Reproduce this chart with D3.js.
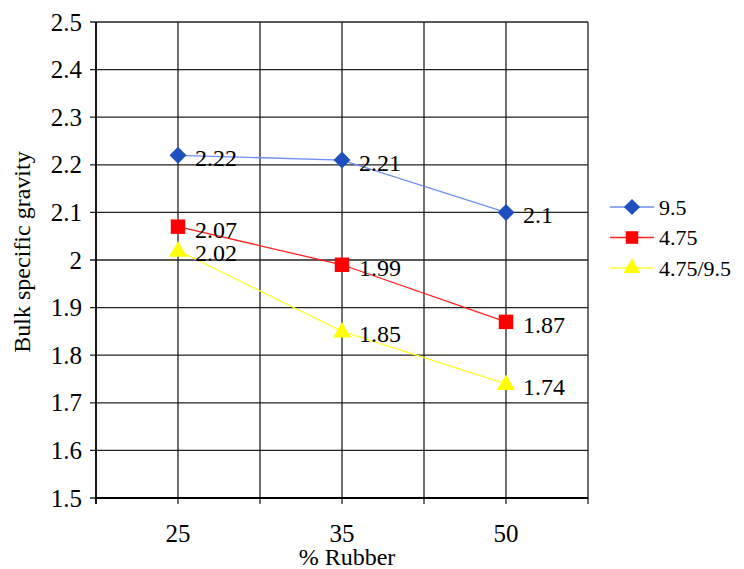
<!DOCTYPE html>
<html><head><meta charset="utf-8">
<script src="https://cdn.jsdelivr.net/npm/d3@7"></script>
</head><body style="margin:0">
<script>
const categories = ["25", "35", "50"];
const seriesNames = ["9.5", "4.75", "4.75/9.5"];
const values95 = [2.22, 2.21, 2.1];
const values475 = [2.07, 1.99, 1.87];
const values475_95 = [2.02, 1.85, 1.74];
const yTicks = [1.5, 1.6, 1.7, 1.8, 1.9, 2.0, 2.1, 2.2, 2.3, 2.4, 2.5];
const yTickLabels = ["1.5","1.6","1.7","1.8","1.9","2","2.1","2.2","2.3","2.4","2.5"];

const series = [
  {name: seriesNames[0], values: values95, line: "#6f8ff5", fill: "#1f4fbf", kind: "diamond"},
  {name: seriesNames[1], values: values475, line: "#ff2020", fill: "#ff0000", kind: "square"},
  {name: seriesNames[2], values: values475_95, line: "#ffff30", fill: "#ffff00", kind: "triangle"}
];

const W = 744, H = 569;
const plot = {left: 96, right: 588, top: 22, bottom: 498};
const svg = d3.select("body").append("svg").attr("width", W).attr("height", H)
  .style("display", "block").attr("font-family", "Liberation Serif");

function txt(parent) {
  return parent.append("text").style("font-family", '"Liberation Serif"');
}

const x = d3.scaleBand().domain(categories).range([plot.left, plot.right]).padding(0);
const y = d3.scaleLinear().domain([1.5, 2.5]).range([plot.bottom, plot.top]);
const cx = c => x(c) + x.bandwidth() / 2;

function markerPath(kind, scale) {
  if (kind === "diamond") return d3.symbol().type(d3.symbolSquare).size(144 * scale)();
  if (kind === "square") return d3.symbol().type(d3.symbolSquare).size(210 * scale)();
  return d3.symbol().type(d3.symbolTriangle).size(140 * scale)();
}

// horizontal gridlines
svg.append("g").selectAll("line").data(yTicks).join("line")
  .attr("x1", plot.left - 6).attr("x2", plot.right)
  .attr("y1", d => y(d)).attr("y2", d => y(d))
  .attr("stroke", "#222").attr("stroke-width", 1.3);

// vertical gridlines: band boundaries and centers
const vx = [];
categories.forEach(c => { vx.push(x(c)); vx.push(cx(c)); });
vx.push(plot.right);
svg.append("g").selectAll("line").data(vx).join("line")
  .attr("x1", d => d).attr("x2", d => d)
  .attr("y1", plot.top).attr("y2", plot.bottom + 6)
  .attr("stroke", "#222").attr("stroke-width", 1.3);

// axes lines
svg.append("line").attr("x1", plot.left).attr("x2", plot.left).attr("y1", plot.top).attr("y2", plot.bottom + 6)
  .attr("stroke", "#000").attr("stroke-width", 1.6);
svg.append("line").attr("x1", plot.left).attr("x2", plot.right).attr("y1", plot.bottom).attr("y2", plot.bottom)
  .attr("stroke", "#000").attr("stroke-width", 2);

// y tick labels
const gy = svg.append("g");
yTicks.forEach((d, i) => {
  txt(gy).attr("x", 82).attr("y", y(d) + 8.5)
    .attr("text-anchor", "end").attr("font-size", 25).text(yTickLabels[i]);
});

// x tick labels
const gx = svg.append("g");
categories.forEach(c => {
  txt(gx).attr("x", cx(c)).attr("y", 541.5)
    .attr("text-anchor", "middle").attr("font-size", 25).text(c);
});

// axis titles
txt(svg).attr("x", 347).attr("y", 565)
  .attr("text-anchor", "middle").attr("font-size", 24).text("% Rubber");
txt(svg).attr("transform", "translate(30,252) rotate(-90)")
  .attr("text-anchor", "middle").attr("font-size", 24).text("Bulk specific gravity");

// lines, markers, labels
const line = d3.line().x((d, i) => cx(categories[i])).y(d => y(d));
series.forEach(s => {
  const g = svg.append("g");
  g.append("path").datum(s.values).attr("d", line)
    .attr("fill", "none").attr("stroke", s.line).attr("stroke-width", 1.3);
  s.values.forEach((d, i) => {
    g.append("path").attr("d", markerPath(s.kind, 1)).attr("fill", s.fill)
      .attr("transform", `translate(${cx(categories[i])},${y(d) + (s.kind === "triangle" ? 1 : 0)})` + (s.kind === "diamond" ? " rotate(45)" : ""));
  });
  s.values.forEach((d, i) => {
    txt(g).attr("x", cx(categories[i]) + 17).attr("y", y(d) + 11)
      .attr("font-size", 24).text(String(d));
  });
});

// legend
const lg = svg.append("g");
series.forEach((s, i) => {
  const ly = 207 + i * 30.5;
  lg.append("line").attr("x1", 610).attr("x2", 654).attr("y1", ly).attr("y2", ly)
    .attr("stroke", s.line).attr("stroke-width", 1.3);
  lg.append("path").attr("d", markerPath(s.kind, s.kind === "square" ? 0.75 : 0.9)).attr("fill", s.fill)
    .attr("transform", `translate(632,${ly})` + (s.kind === "diamond" ? " rotate(45)" : ""));
  txt(lg).attr("x", 659).attr("y", ly + 7.5).attr("font-size", 22).text(s.name);
});
</script>
</body></html>
